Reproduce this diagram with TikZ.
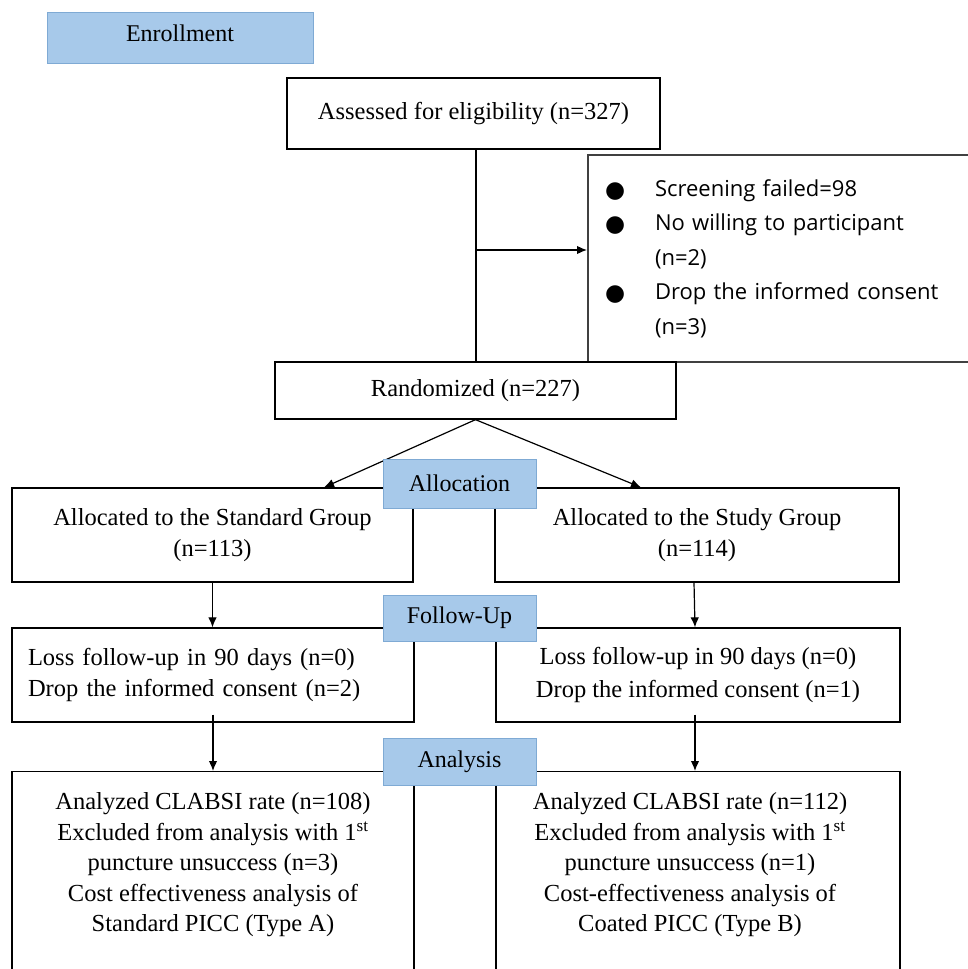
\documentclass[tikz,border=0pt]{standalone}
\usepackage{fontspec}
\setmainfont{Liberation Serif}
\newfontfamily\exclsans{Open Sans}
\newfontfamily\djv{DejaVu Sans}
\usetikzlibrary{arrows.meta}
\definecolor{phase}{HTML}{A7C9EA}
\definecolor{phaseedge}{HTML}{7FAAD4}
\newcommand\exbullet{\makebox[50pt][l]{\raisebox{-1pt}{\djv\fontsize{23}{23}\selectfont ●}}}
\begin{document}
\begin{tikzpicture}[x=1pt,y=-1pt,
 box/.style={draw=black, line width=1.3pt, fill=white, rectangle, inner sep=0pt, align=center, font=\fontsize{24.5}{31}\selectfont},
 bodytext/.style={inner sep=0pt, align=center, font=\fontsize{24.5}{30.5}\selectfont},
 phasebox/.style={draw=phaseedge, line width=1pt, fill=phase, inner sep=0pt, font=\fontsize{24}{28}\selectfont},
 conn/.style={line width=1.2pt},
 arr/.style={conn, -{Latex[length=10pt,width=8.5pt]}}]
\useasboundingbox (0,0) rectangle (968,969);
\clip (0,0) rectangle (968,969);

% boxes
\node[box, minimum width=373pt, minimum height=71pt] (assess) at (473.5,113.5) {Assessed for eligibility (n=327)};
\node[box, draw=black!75, line width=2pt, minimum width=402pt, minimum height=207pt,
      text width=368pt, align=left, inner xsep=17pt, font=\exclsans\fontsize{22}{34.5}\selectfont] (excl) at (789,258.5)
  {\exbullet Screening failed=98\\ \exbullet No willing to participant\\ \hspace*{50pt}(n=2)\\ \exbullet Drop the informed consent\\ \hspace*{50pt}(n=3)};
\node[box, minimum width=401pt, minimum height=57pt] (rand) at (475.5,390.5) {Randomized (n=227)};
\node[box, minimum width=401pt, minimum height=94pt] (allocL) at (212.5,535) {Allocated to the Standard Group\\(n=113)};
\node[box, minimum width=404pt, minimum height=94pt] (allocR) at (697,535) {Allocated to the Study Group\\(n=114)};
\node[box, minimum width=402pt, minimum height=94pt, text width=370pt, align=left, inner xsep=16pt] (fuL) at (213,675)
  {Loss follow-up in 90 days (n=0)\\Drop the informed consent (n=2)};
\node[box, minimum width=404pt, minimum height=94pt] (fuR) at (698,675)
  {Loss follow-up in 90 days (n=0)\\[2pt]Drop the informed consent (n=1)};
\node[box, minimum width=402pt, minimum height=260pt, anchor=north] (anL) at (213,771) {};
\node[box, minimum width=404pt, minimum height=260pt, anchor=north] (anR) at (698,771) {};
\node[bodytext] (anLtext) at (213,865) {Analyzed CLABSI rate (n=108)\\ Excluded from analysis with 1\textsuperscript{st}\\ puncture unsuccess (n=3)\\ Cost effectiveness analysis of\\ Standard PICC (Type A)};
\node[bodytext] (anRtext) at (690,865) {Analyzed CLABSI rate (n=112)\\ Excluded from analysis with 1\textsuperscript{st}\\ puncture unsuccess (n=1)\\ Cost-effectiveness analysis of\\ Coated PICC (Type B)};

% connectors
\coordinate (split) at (476,250);
\draw[conn] (assess.south -| split) -- (rand.north -| split);
\draw[arr] (split) -- (split -| excl.west);
\draw[arr] (rand.south) -- ([xshift=111.5pt]allocL.north);
\draw[arr] (rand.south) -- ([xshift=-56pt]allocR.north);
\draw[arr] (allocL.south) -- (fuL.north -| allocL.south);
\draw[arr] ([xshift=-3pt]allocR.south) -- ([xshift=-3pt]fuR.north);
\draw[arr] ([yshift=8pt]fuL.south) -- (anL.north -| fuL.south);
\draw[arr] ([xshift=-3pt,yshift=8pt]fuR.south) -- ([xshift=-3pt]anR.north -| fuR.south);

% phase labels
\node[phasebox, minimum width=266pt, minimum height=51pt, text depth=8pt] (enroll) at (180,37.5) {Enrollment};
\node[phasebox, minimum width=153pt, minimum height=49pt] (allocation) at (459.5,483.5) {Allocation};
\node[phasebox, minimum width=153pt, minimum height=46pt] (followup) at (459.5,618) {Follow-Up};
\node[phasebox, minimum width=153pt, minimum height=47pt] (analysis) at (459.5,761.5) {Analysis};
\end{tikzpicture}
\end{document}
